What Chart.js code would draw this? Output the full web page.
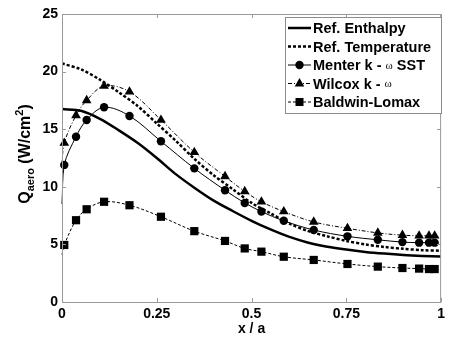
<!DOCTYPE html>
<html>
<head>
<meta charset="utf-8">
<script src="https://cdn.jsdelivr.net/npm/chart.js@4.4.1/dist/chart.umd.min.js"></script>
<style>
  body { margin: 0; background: #fff; }
  #wrap { width: 449px; height: 340px; }
</style>
</head>
<body>
<div id="wrap"><canvas id="chartQ"></canvas></div>
<script>
// reference curves (x / a)
var refX        = [0, 0.05, 0.1, 0.15, 0.2, 0.25, 0.3, 0.35, 0.4, 0.45, 0.5, 0.55, 0.6, 0.65, 0.7, 0.75, 0.8, 0.85, 0.9, 0.95, 1.0];
var enthalpy    = [16.75, 16.6, 15.9, 14.9, 13.8, 12.5, 11.1, 9.9, 8.8, 7.9, 7.05, 6.3, 5.65, 5.15, 4.8, 4.55, 4.35, 4.2, 4.08, 4.0, 3.95];
var temperature = [20.7, 20.2, 19.3, 18.2, 17.0, 15.5, 14.0, 12.4, 11.0, 9.8, 8.6, 7.7, 6.8, 6.15, 5.7, 5.3, 5.0, 4.78, 4.62, 4.5, 4.45];

// CFD results, first point is the leading edge (no marker)
var cfdX     = [0, 0.006, 0.037, 0.065, 0.111, 0.178, 0.261, 0.349, 0.43, 0.482, 0.526, 0.585, 0.664, 0.753, 0.833, 0.898, 0.942, 0.968, 0.983];
var menter   = [8.5, 11.9, 14.35, 15.8, 16.9, 16.15, 13.95, 11.6, 9.7, 8.6, 7.85, 7.05, 6.25, 5.7, 5.4, 5.2, 5.15, 5.15, 5.15];
var wilcox   = [12.0, 13.8, 16.2, 17.5, 18.75, 18.25, 15.8, 13.0, 10.9, 9.6, 8.7, 7.85, 6.95, 6.4, 6.0, 5.8, 5.75, 5.75, 5.75];
var baldwin  = [4.1, 4.95, 7.1, 8.05, 8.7, 8.4, 7.4, 6.15, 5.3, 4.65, 4.37, 3.93, 3.65, 3.3, 3.07, 2.95, 2.9, 2.86, 2.86];

var xTicks = [0, 0.25, 0.5, 0.75, 1];
var yTicks = [0, 5, 10, 15, 20, 25];

function pts(xs, ys) {
    return xs.map((x, i) => ({x: x, y: ys[i]}));
}

function noFirst(r) {
    return ctx => ctx.dataIndex === 0 ? 0 : r;
}

var legendItems = [
    {text: ['Ref. Enthalpy'], width: 2.5, dash: [], marker: null},
    {text: ['Ref. Temperature'], width: 2.5, dash: [3, 2], marker: null},
    {text: ['Menter k - ', 'ω', ' SST'], width: 1, dash: [], marker: 'circle'},
    {text: ['Wilcox k - ', 'ω'], width: 1, dash: [4, 2, 1, 2], marker: 'triangle'},
    {text: ['Baldwin-Lomax'], width: 1, dash: [3, 2], marker: 'rect'}
];

function drawMarker(c, type, x, y) {
    c.fillStyle = '#000';
    c.beginPath();
    if (type === 'circle') {
        c.arc(x, y, 4.2, 0, Math.PI * 2);
    } else if (type === 'triangle') {
        c.moveTo(x, y - 5.5);
        c.lineTo(x + 4.8, y + 3);
        c.lineTo(x - 4.8, y + 3);
        c.closePath();
    } else if (type === 'rect') {
        c.rect(x - 4, y - 4, 8, 8);
    }
    c.fill();
}

var framePlugin = {
    id: 'frame',
    afterDraw(chart) {
        var c = chart.ctx;
        var a = chart.chartArea;
        var xs = chart.scales.x, ys = chart.scales.y;
        c.save();
        // box + inner ticks
        c.strokeStyle = '#9a9a9a';
        c.lineWidth = 1;
        c.strokeRect(a.left + 0.5, a.top + 0.5, a.right - a.left - 1, a.bottom - a.top);
        c.beginPath();
        xTicks.forEach(t => {
            var px = Math.round(xs.getPixelForValue(t)) + 0.5;
            c.moveTo(px, a.bottom); c.lineTo(px, a.bottom - 4);
            c.moveTo(px, a.top); c.lineTo(px, a.top + 4);
        });
        yTicks.forEach(t => {
            var py = Math.round(ys.getPixelForValue(t)) + 0.5;
            c.moveTo(a.left, py); c.lineTo(a.left + 4, py);
            c.moveTo(a.right, py); c.lineTo(a.right - 4, py);
        });
        c.stroke();

        // legend
        var bx = 285.5, by = 17.5, bw = 156, bh = 96;
        c.fillStyle = '#fff';
        c.fillRect(bx, by, bw, bh);
        c.strokeStyle = '#8c8c8c';
        c.strokeRect(bx, by, bw, bh);
        legendItems.forEach((it, i) => {
            var y = 28 + i * 18.5;
            c.strokeStyle = '#000';
            c.lineWidth = it.width;
            c.setLineDash(it.dash);
            c.beginPath();
            c.moveTo(288, y); c.lineTo(311, y);
            c.stroke();
            c.setLineDash([]);
            if (it.marker) drawMarker(c, it.marker, 299.5, y);
            var tx = 313;
            c.fillStyle = '#000';
            c.textBaseline = 'middle';
            c.textAlign = 'left';
            it.text.forEach(s => {
                c.font = s === 'ω' ? '11px "Liberation Serif"' : 'bold 14.5px "Liberation Sans", Arial';
                c.fillText(s, tx, y + 1);
                tx += c.measureText(s).width;
            });
        });

        // x title
        c.font = 'bold 14px "Liberation Sans", Arial';
        c.textAlign = 'center';
        c.textBaseline = 'alphabetic';
        c.fillText('x / a', (a.left + a.right) / 2, 333);

        // y title with sub/superscript
        var parts = [
            {s: 'Q', f: 'bold 16px "Liberation Sans", Arial', dy: 0},
            {s: 'aero', f: 'bold 11px "Liberation Sans", Arial', dy: 4},
            {s: ' (W/cm', f: 'bold 16px "Liberation Sans", Arial', dy: 0},
            {s: '2', f: 'bold 11px "Liberation Sans", Arial', dy: -7},
            {s: ')', f: 'bold 16px "Liberation Sans", Arial', dy: 0}
        ];
        var total = 0;
        parts.forEach(p => { c.font = p.f; p.w = c.measureText(p.s).width; total += p.w; });
        c.translate(30, 154);
        c.rotate(-Math.PI / 2);
        c.textAlign = 'left';
        var px = -total / 2;
        parts.forEach(p => {
            c.font = p.f;
            c.fillText(p.s, px, p.dy);
            px += p.w;
        });
        c.restore();
    }
};

new Chart(document.getElementById('chartQ'), {
    type: 'line',
    data: {
        datasets: [
            {
                label: 'Ref. Enthalpy',
                data: pts(refX, enthalpy),
                borderColor: '#000', borderWidth: 2.5,
                pointRadius: 0, tension: 0.3
            },
            {
                label: 'Ref. Temperature',
                data: pts(refX, temperature),
                borderColor: '#000', borderWidth: 2.5, borderDash: [3, 2],
                pointRadius: 0, tension: 0.3
            },
            {
                label: 'Menter k - ω SST',
                data: pts(cfdX, menter),
                borderColor: '#000', borderWidth: 1,
                pointStyle: 'circle', pointRadius: noFirst(4.2),
                pointBackgroundColor: '#000', pointBorderWidth: 0,
                tension: 0.35, clip: false
            },
            {
                label: 'Wilcox k - ω',
                data: pts(cfdX, wilcox),
                borderColor: '#000', borderWidth: 1, borderDash: [4, 2, 1, 2],
                pointStyle: 'triangle', pointRadius: noFirst(5.6),
                pointBackgroundColor: '#000', pointBorderWidth: 0,
                tension: 0.35, clip: false
            },
            {
                label: 'Baldwin-Lomax',
                data: pts(cfdX, baldwin),
                borderColor: '#000', borderWidth: 1, borderDash: [3, 2],
                pointStyle: 'rect', pointRadius: noFirst(5.8),
                pointBackgroundColor: '#000', pointBorderWidth: 0,
                tension: 0.35, clip: false
            }
        ]
    },
    options: {
        responsive: true,
        maintainAspectRatio: false,
        animation: false,
        layout: {padding: {top: 14, right: 6, left: 0, bottom: 0}},
        plugins: {legend: {display: false}, tooltip: {enabled: false}},
        scales: {
            x: {
                type: 'linear', min: 0, max: 1,
                afterFit: s => { s.height = 38; },
                afterBuildTicks: s => { s.ticks = xTicks.map(v => ({value: v})); },
                grid: {display: false, drawTicks: false},
                border: {display: false},
                ticks: {
                    padding: 4, color: '#000',
                    font: {family: '"Liberation Sans", Arial', size: 14, weight: 'bold'},
                    maxRotation: 0,
                    callback: v => String(v)
                }
            },
            y: {
                min: 0, max: 25,
                afterFit: s => { s.width = 62; },
                afterBuildTicks: s => { s.ticks = yTicks.map(v => ({value: v})); },
                grid: {display: false, drawTicks: false},
                border: {display: false},
                ticks: {
                    padding: 4, color: '#000',
                    font: {family: '"Liberation Sans", Arial', size: 14, weight: 'bold'},
                    callback: v => String(v)
                }
            }
        }
    },
    plugins: [framePlugin]
});
</script>
</body>
</html>
